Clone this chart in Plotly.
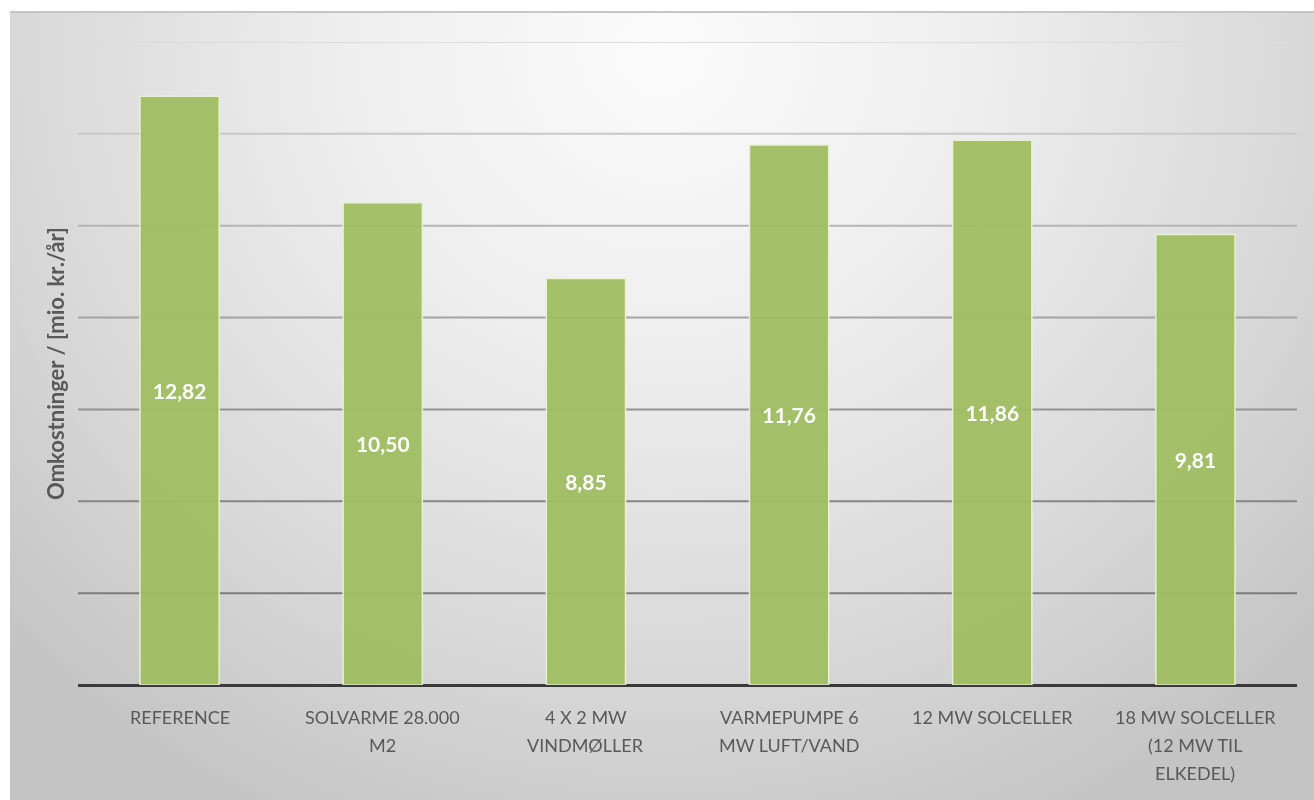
import base64
import plotly.graph_objects as go

categories = ["REFERENCE", "SOLVARME 28.000<br>M2", "4 X 2 MW<br>VINDMØLLER",
              "VARMEPUMPE 6<br>MW LUFT/VAND", "12 MW SOLCELLER",
              "18 MW SOLCELLER<br>(12 MW TIL<br>ELKEDEL)"]
values = [12.82, 10.50, 8.85, 11.76, 11.86, 9.81]
value_labels = ["12,82", "10,50", "8,85", "11,76", "11,86", "9,81"]
grid_values = [2, 4, 6, 8, 10, 12, 14]
grid_colors = ["#7c7c7c", "#868686", "#939393", "#a3a3a3", "#b5b5b5", "#c8c8c8", "#dcdcdc"]
y_title = "Omkostninger / [mio. kr./år]"

W, H = 1314, 800
L, R, T, B = 78, 17, 42, 115
pw, ph = W - L - R, H - T - B

svg = """<svg xmlns='http://www.w3.org/2000/svg' width='1304' height='788' viewBox='0 0 1304 788' preserveAspectRatio='none'>
<defs><radialGradient id='g' gradientUnits='userSpaceOnUse' cx='652' cy='40' r='900' gradientTransform='translate(652 40) scale(1 0.95) translate(-652 -40)'>
<stop offset='0' stop-color='#fbfbfb'/><stop offset='0.35' stop-color='#eeeeee'/><stop offset='0.75' stop-color='#d6d6d6'/><stop offset='1' stop-color='#c4c4c4'/></radialGradient></defs>
<rect width='1304' height='788' fill='url(#g)'/></svg>"""
src = "data:image/svg+xml;base64," + base64.b64encode(svg.encode()).decode()

px0 = (10 - L) / pw
py0 = (H - B - 12) / ph

fig = go.Figure()
fig.add_trace(go.Bar(
    x=list(range(len(categories))), y=values, text=value_labels,
    textposition="inside", insidetextanchor="middle",
    textfont=dict(family="Lato", size=21, color="white", weight="bold"),
    marker=dict(color="#a0bf64", line=dict(color="#e8f0d6", width=1.5)),
    opacity=0.96, width=0.39, hoverinfo="skip",
))

shapes = []
for gv, gc in zip(grid_values, grid_colors):
    shapes.append(dict(type="line", xref="paper", yref="y", x0=0, x1=1, y0=gv, y1=gv,
                       line=dict(color=gc, width=2), layer="below"))
# top border of panel
shapes.append(dict(type="line", xref="paper", yref="paper", x0=px0, x1=(W - L) / pw,
                   y0=py0, y1=py0, line=dict(color="#c6c6c6", width=2), layer="below"))

annotations = []
for i, c in enumerate(categories):
    for j, line in enumerate(c.split("<br>")):
        annotations.append(dict(x=i, y=0, xref="x", yref="paper", text=line, showarrow=False,
                                yshift=-(32 + 28 * j), yanchor="middle", xanchor="center",
                                font=dict(family="Lato", size=18, color="#595959")))

fig.update_layout(
    width=W, height=H,
    margin=dict(l=L, r=R, t=T, b=B, autoexpand=False),
    paper_bgcolor="white", plot_bgcolor="rgba(0,0,0,0)",
    showlegend=False,
    images=[dict(source=src, xref="paper", yref="paper", x=px0, y=py0,
                 sizex=1304 / pw, sizey=788 / ph, sizing="stretch", layer="below",
                 xanchor="left", yanchor="top")],
    shapes=shapes, annotations=annotations,
    xaxis=dict(range=[-0.5, len(categories) - 0.5], showticklabels=False, ticks="",
               showgrid=False, zeroline=False, showline=False, fixedrange=True),
    yaxis=dict(range=[0, 14], showticklabels=False, ticks="", showgrid=False,
               zeroline=True, zerolinecolor="#3a3a3a", zerolinewidth=3,
               title=dict(text=y_title, standoff=6,
                          font=dict(family="Lato", size=22, color="#595959", weight="bold")),
               fixedrange=True),
)
fig.write_html("out.html")
